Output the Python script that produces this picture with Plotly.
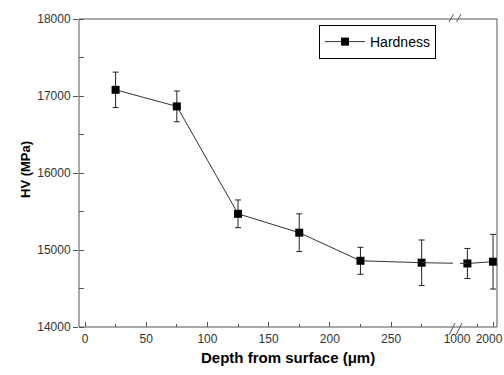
import plotly.graph_objects as go

# ---- data ----
depth_near = [25, 75, 125, 175, 225, 275]
hv_near = [17080, 16865, 15470, 15225, 14860, 14835]
err_near = [230, 200, 180, 245, 175, 295]

depth_far = [1200, 2000]
hv_far = [14825, 14848]
err_far = [195, 355]

y_ticks = [14000, 15000, 16000, 17000, 18000]
x_ticks_near = [0, 50, 100, 150, 200, 250]
x_ticks_far = [1000, 2000]

# ---- geometry (pixels) ----
W, H = 504, 375
ML, MR, MT, MB = 79, 7, 19, 48
PW = W - ML - MR
PH = H - MT - MB
brk_l, brk_r = 453, 460
dom1 = [0, (brk_l - ML) / PW]
dom2 = [(brk_r - ML) / PW, 1]
r1 = [-4.9, 300.6]
r2 = [969, 2125]

def px1(v):
    return ML + (v - r1[0]) / (r1[1] - r1[0]) * (dom1[1] - dom1[0]) * PW

def px2(v):
    return ML + dom2[0] * PW + (v - r2[0]) / (r2[1] - r2[0]) * (dom2[1] - dom2[0]) * PW

def inv1(p):
    return r1[0] + (p - ML) / ((dom1[1] - dom1[0]) * PW) * (r1[1] - r1[0])

def inv2(p):
    return r2[0] + (p - ML - dom2[0] * PW) / ((dom2[1] - dom2[0]) * PW) * (r2[1] - r2[0])

fig = go.Figure()
line_col = "#333333"
mk = dict(symbol="square", size=8, color="black")
eb = dict(thickness=1, width=3, color="#222222")

fig.add_trace(go.Scatter(x=depth_near, y=hv_near, mode="lines+markers", name="Hardness",
                         line=dict(color=line_col, width=1), marker=mk,
                         error_y=dict(type="data", array=err_near, **eb),
                         xaxis="x", yaxis="y"))
fig.add_trace(go.Scatter(x=depth_far, y=hv_far, mode="lines+markers", showlegend=False,
                         line=dict(color=line_col, width=1), marker=mk,
                         error_y=dict(type="data", array=err_far, **eb),
                         xaxis="x2", yaxis="y"))
# connector across the break (clipped by each subplot)
p_a = px1(depth_near[-1])
p_b = px2(depth_far[0])
fig.add_trace(go.Scatter(x=[depth_near[-1], inv1(p_b)], y=[hv_near[-1], hv_far[0]], mode="lines",
                         showlegend=False, line=dict(color=line_col, width=1), hoverinfo="skip",
                         xaxis="x", yaxis="y"))
fig.add_trace(go.Scatter(x=[inv2(p_a), depth_far[0]], y=[hv_near[-1], hv_far[0]], mode="lines",
                         showlegend=False, line=dict(color=line_col, width=1), hoverinfo="skip",
                         xaxis="x2", yaxis="y"))
# invisible trace for inside-tick overlay axis
fig.add_trace(go.Scatter(x=[depth_near[0]], y=[hv_near[0]], mode="markers", showlegend=False,
                         marker=dict(opacity=0), hoverinfo="skip", xaxis="x", yaxis="y2"))

FONT = "Liberation Sans, Arial, sans-serif"
tick_font = dict(family=FONT, size=12, color="#333333")
axis_col = "#555555"

fig.update_layout(
    width=W, height=H,
    margin=dict(l=ML, r=MR, t=MT, b=MB, autoexpand=False),
    paper_bgcolor="white", plot_bgcolor="white",
    showlegend=True,
    legend=dict(x=(319 - ML) / PW, y=(MT + PH - 25) / PH, xanchor="left", yanchor="top",
                bgcolor="white", bordercolor="black", borderwidth=1,
                font=dict(family=FONT, size=14, color="black"),
                itemwidth=40, tracegroupgap=0),
    xaxis=dict(domain=dom1, range=r1, anchor="y", tickvals=x_ticks_near, ticks="inside",
               ticklen=5, tickcolor=axis_col, tickfont=tick_font, showgrid=False, zeroline=False,
               showline=False, automargin=False, ticklabelstandoff=3, tickangle=0,
               minor=dict(dtick=25, tick0=0, ticks="inside", ticklen=3, tickcolor=axis_col,
                          showgrid=False)),
    xaxis2=dict(domain=dom2, range=r2, anchor="y", tickvals=x_ticks_far, ticks="inside",
                ticklen=5, tickcolor=axis_col, tickfont=tick_font, showgrid=False, zeroline=False,
                showline=False, automargin=False, ticklabelstandoff=3, tickangle=0,
                ticklabelshift=-4, ticklabeloverflow="allow",
                minor=dict(tickvals=[1500], ticks="inside", ticklen=3, tickcolor=axis_col,
                           showgrid=False)),
    yaxis=dict(range=[14000, 18000], tickvals=y_ticks, tickformat="d", ticks="outside",
               ticklen=5, tickcolor=axis_col, tickfont=tick_font, showgrid=False, zeroline=False,
               showline=False, automargin=False,
               minor=dict(dtick=500, tick0=14000, ticks="inside", ticklen=5, tickcolor=axis_col,
                          showgrid=False)),
    yaxis2=dict(range=[14000, 18000], overlaying="y", anchor="x", tickvals=y_ticks,
                ticks="inside", ticklen=5, tickcolor=axis_col, showticklabels=False,
                showgrid=False, zeroline=False, showline=False, automargin=False),
    annotations=[
        dict(text="<b>Depth from surface (μm)</b>", xref="paper", yref="paper",
             x=0.5, y=(MT + PH - 357) / PH, xanchor="center", yanchor="middle",
             showarrow=False, font=dict(family=FONT, size=15, color="black")),
        dict(text="<b>HV (MPa)</b>", xref="paper", yref="paper", textangle=-90,
             x=(25 - ML) / PW, y=(MT + PH - 170) / PH, xanchor="center", yanchor="middle",
             showarrow=False, font=dict(family=FONT, size=13, color="black")),
    ],
)

def pxp(x, y):
    return (x - ML) / PW, (MT + PH - y) / PH

shapes = [dict(type="rect", xref="paper", yref="paper", x0=0, y0=0, x1=1, y1=1,
               line=dict(color=axis_col, width=1), layer="above")]
for (xa, ya, xb, yb) in [(449, 335, 455, 323), (456, 335, 462, 323),
                         (449, 22, 453.5, 14), (456.5, 22, 461, 14)]:
    x0, y0 = pxp(xa, ya)
    x1, y1 = pxp(xb, yb)
    shapes.append(dict(type="line", xref="paper", yref="paper", x0=x0, y0=y0, x1=x1, y1=y1,
                       line=dict(color=axis_col, width=1), layer="above"))
fig.update_layout(shapes=shapes)

fig.write_html("out.html", config={"displayModeBar": False},
               post_script="document.body.style.margin='0px';document.body.style.padding='0px';")
